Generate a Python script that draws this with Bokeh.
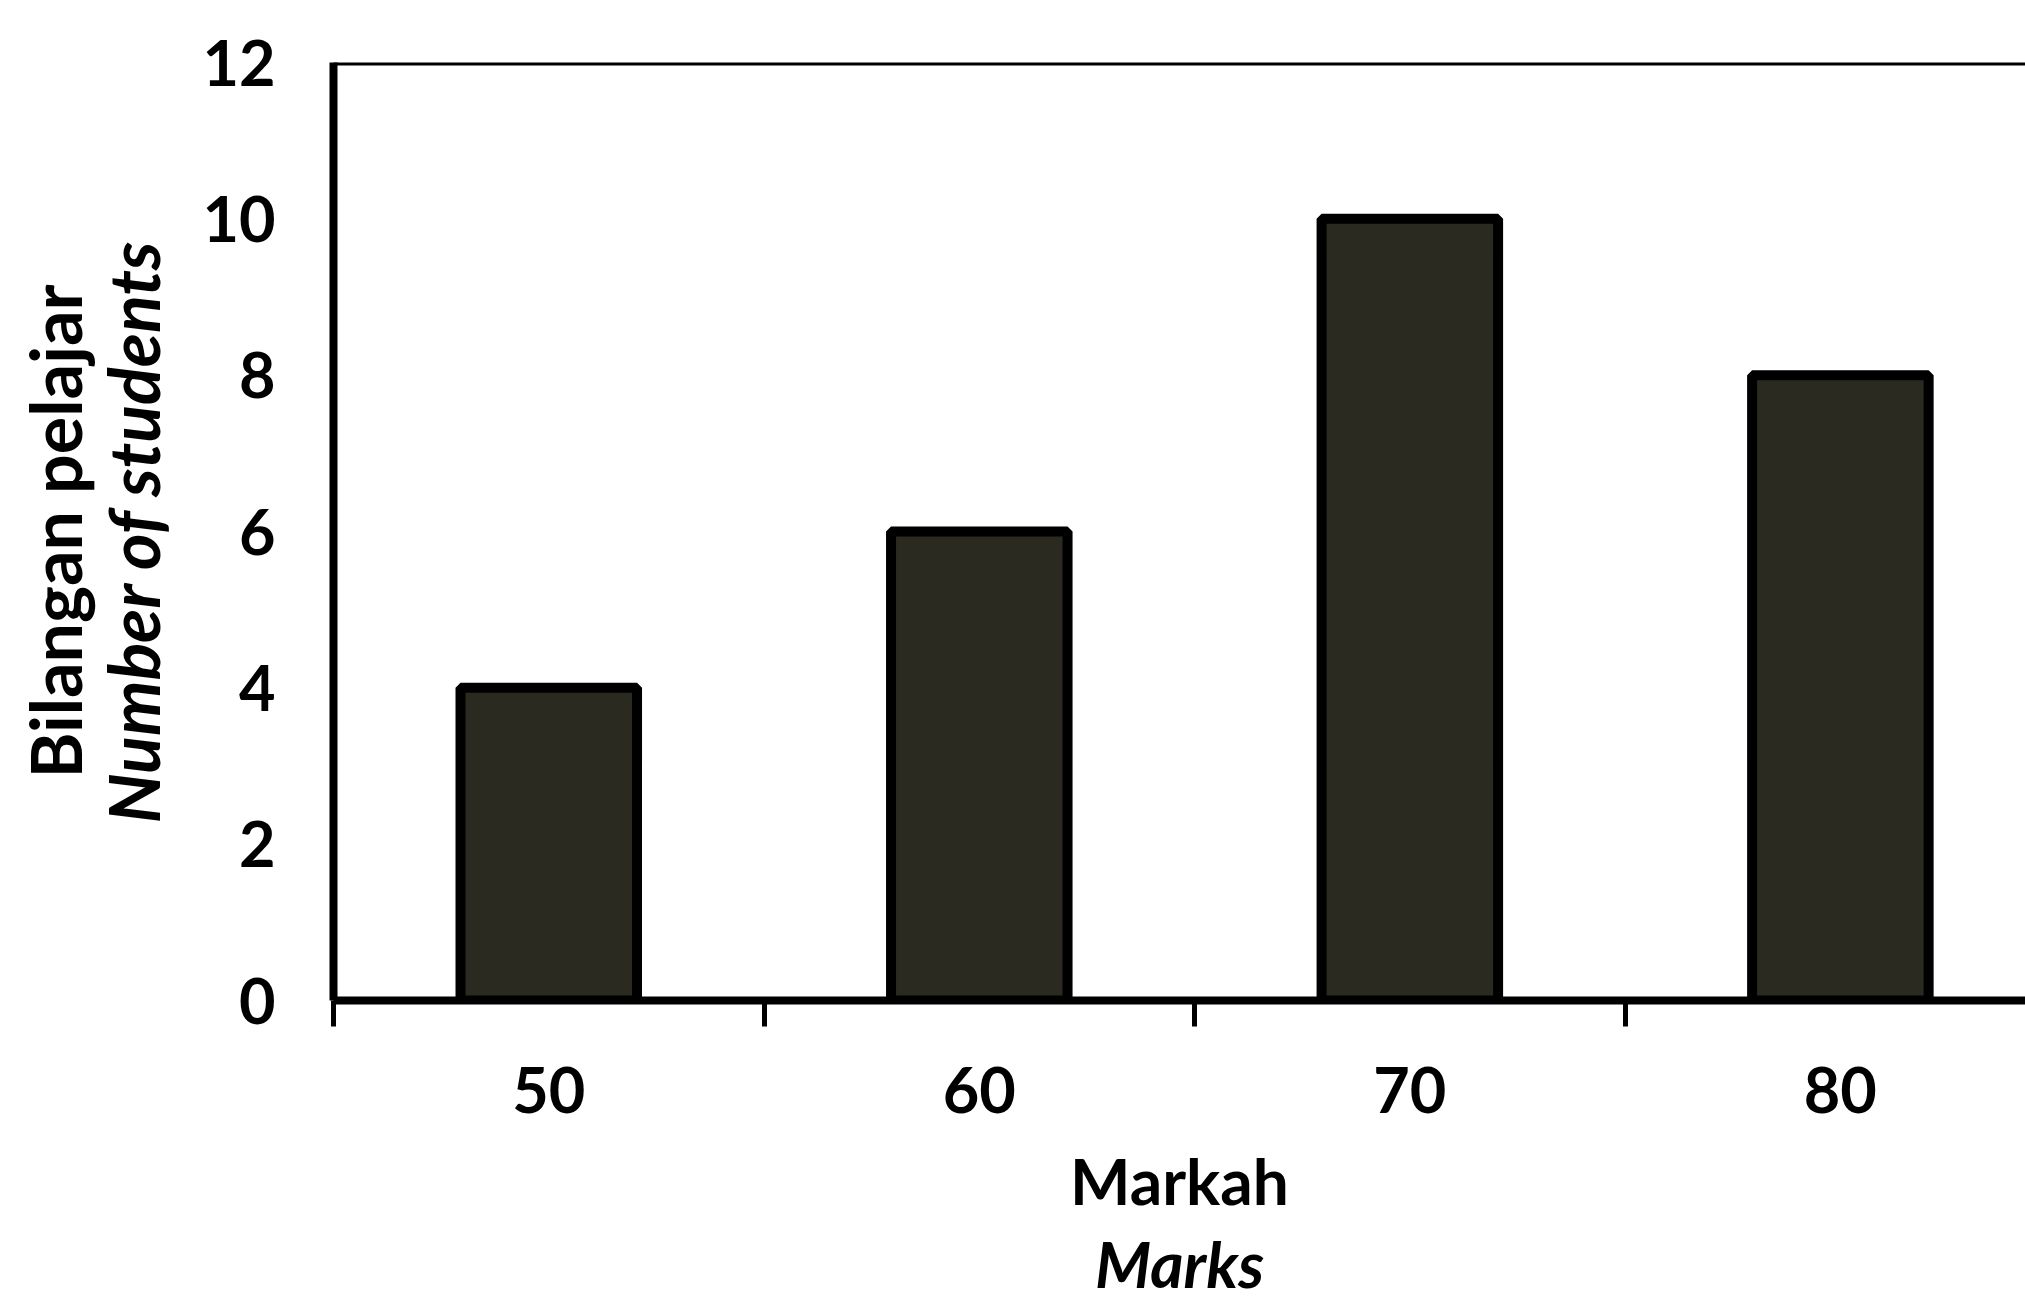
from bokeh.plotting import figure
from bokeh.models import Range1d, LinearAxis, FixedTicker, Span, Title
from bokeh.embed import file_html
from bokeh.resources import INLINE

# Data
marks = ["50", "60", "70", "80"]
students = [4, 6, 10, 8]
y_ticks = [0, 2, 4, 6, 8, 10, 12]

xpos = [i + 0.5 for i in range(len(marks))]
boundaries = list(range(len(marks)))

FONT = "Lato"
TICK_FS = "63px"
XT_FS = "64px"
YT_FS = "70px"

p = figure(width=2025, height=1303, output_backend="svg", toolbar_location=None,
           x_range=Range1d(0, 3.93), y_range=Range1d(0, 12),
           min_border_left=333, min_border_right=0, min_border_top=62, min_border_bottom=303)
p.background_fill_color = "white"
p.border_fill_color = "white"
p.outline_line_color = None
p.grid.visible = False

p.vbar(x=xpos, top=students, width=0.41, fill_color="#2b2a20",
       line_color="black", line_width=10)

# top frame line
p.add_layout(Span(location=12, dimension="width", line_color="black", line_width=6))

# x axis with boundary ticks
xa = p.xaxis[0]
xa.ticker = FixedTicker(ticks=boundaries)
xa.major_label_overrides = {b: "" for b in boundaries}
xa.major_label_text_font_size = "1px"
xa.major_label_standoff = 0
xa.major_tick_out = 26
xa.major_tick_in = 0
xa.major_tick_line_width = 5
xa.major_tick_line_color = "black"
xa.axis_line_width = 8
xa.axis_line_color = "black"
xa.minor_tick_line_color = None

# x axis with category labels
xa2 = LinearAxis(ticker=FixedTicker(ticks=xpos),
                 major_label_overrides={x: m for x, m in zip(xpos, marks)},
                 axis_line_color=None, major_tick_line_color=None, minor_tick_line_color=None,
                 major_tick_out=0, major_tick_in=0, major_label_standoff=40,
                 major_label_text_font=FONT, major_label_text_font_size=TICK_FS,
                 major_label_text_font_style="bold", major_label_text_color="black",
                 axis_label="Markah", axis_label_standoff=26,
                 axis_label_text_font=FONT, axis_label_text_font_size=XT_FS,
                 axis_label_text_font_style="bold", axis_label_text_color="black")
p.add_layout(xa2, "below")
p.add_layout(Title(text="Marks", align="center", text_font=FONT, text_font_size=XT_FS,
                   text_font_style="bold italic", text_color="black", standoff=2), "below")

# y axis
ya = p.yaxis[0]
ya.ticker = FixedTicker(ticks=y_ticks)
ya.major_tick_out = 0
ya.major_tick_in = 0
ya.minor_tick_line_color = None
ya.axis_line_width = 8
ya.axis_line_color = "black"
ya.major_label_standoff = 58
ya.major_label_text_font = FONT
ya.major_label_text_font_size = TICK_FS
ya.major_label_text_font_style = "bold"
ya.major_label_text_color = "black"
ya.axis_label = "Number of students"
ya.axis_label_standoff = 24
ya.axis_label_text_font = FONT
ya.axis_label_text_font_size = YT_FS
ya.axis_label_text_font_style = "bold italic"
ya.axis_label_text_color = "black"
p.add_layout(Title(text="Bilangan pelajar", align="center", text_font=FONT, text_font_size=YT_FS,
                   text_font_style="bold", text_color="black", standoff=-16), "left")

open("out.html", "w").write(file_html(p, INLINE))
